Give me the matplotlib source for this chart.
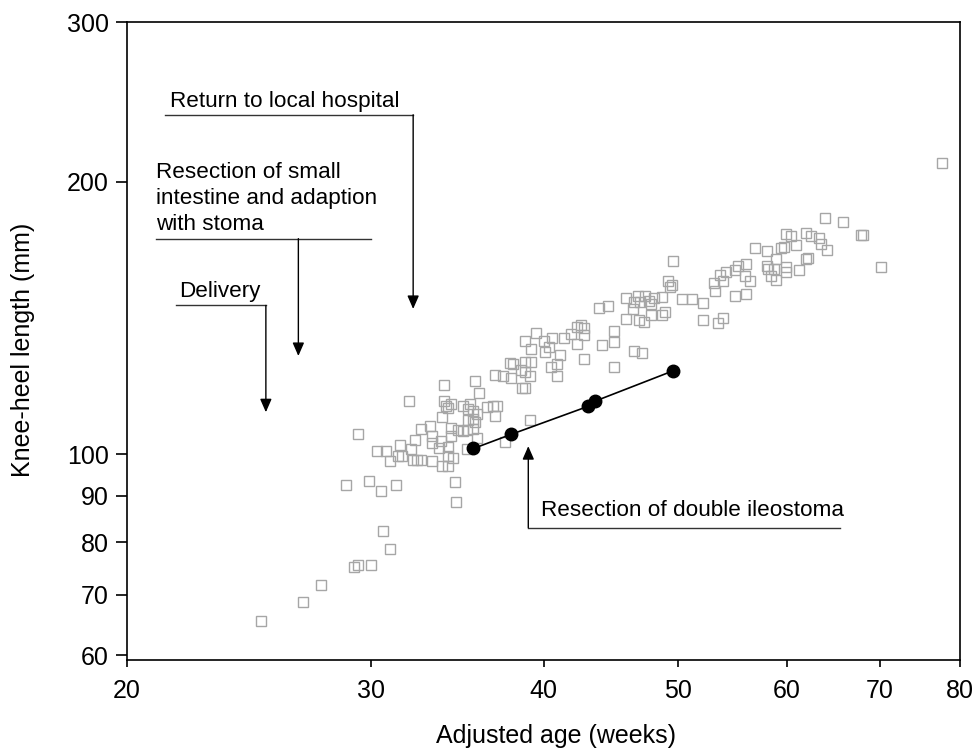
import numpy as np
import matplotlib
matplotlib.use("Agg")
from matplotlib import pyplot as plt
from matplotlib.ticker import NullLocator

plt.rcParams['font.family'] = ['Liberation Sans', 'DejaVu Sans']

# reference children: adjusted age (weeks) and knee-heel length (mm)
ref_age = [
    25.0, 26.8, 27.6, 29.2, 29.4, 30.0, 31.0, 30.6, 28.8, 29.9, 30.5, 31.3,
    33.9, 32.0, 29.4, 30.3, 30.8, 31.0, 31.4, 31.6, 31.5, 32.1, 32.3, 32.6,
    33.1, 33.2, 33.2, 33.7, 33.6, 32.2, 32.4, 32.6, 33.2, 33.8, 34.1, 34.1,
    34.4, 34.3, 34.3, 34.7, 35.2, 33.9, 34.0, 34.3, 33.8, 35.0, 35.4, 35.7,
    35.3, 35.2, 34.5, 34.6,
    35.9, 36.9, 37.4, 37.9, 37.8, 38.0, 38.5, 38.8, 39.1, 38.6, 38.8, 38.8,
    39.2, 38.8, 39.2, 39.5, 40.0, 40.1, 40.4, 40.6, 40.5, 40.9, 40.9, 41.1,
    41.4, 41.9, 42.3, 42.8, 42.8, 42.3, 34.1, 35.3, 35.6, 35.8, 36.4, 36.8,
    37.0, 36.9, 35.6, 35.7, 35.0, 35.6, 35.8, 34.1, 39.1, 37.5,
    49.6, 49.2, 49.4, 49.5, 53.7, 53.9, 54.2, 53.1, 53.2, 45.9, 46.8, 47.4,
    46.5, 47.0, 47.7, 47.8, 48.1, 48.7, 46.4, 50.4, 51.2, 52.2, 45.9, 46.9,
    47.3, 47.8, 48.7, 49.0, 52.2, 53.5, 53.9, 43.9, 44.5, 45.0, 45.0, 44.1,
    42.8, 42.6, 45.0, 46.5, 47.1,
    63.9, 65.9, 67.9, 68.1, 70.2, 59.9, 60.4, 61.9, 62.4, 63.3, 63.5, 64.1,
    60.9, 56.9, 58.0, 59.4, 59.7, 58.9, 58.0, 58.1, 58.7, 59.9, 59.9, 58.4,
    58.9, 61.2, 61.9, 62.1, 56.0, 55.3, 55.0, 55.9, 56.4, 56.0, 55.0, 77.7,
]
ref_length = [
    65.5, 68.8, 71.8, 75.2, 75.5, 75.4, 78.7, 82.2, 92.6, 93.4, 91.2, 92.4,
    119.2, 114.5, 105.2, 100.8, 100.8, 98.2, 99.5, 99.5, 102.3, 101.3, 103.6, 106.6,
    107.4, 104.9, 102.8, 103.4, 101.5, 98.5, 98.5, 98.5, 98.2, 97.2, 97.2, 99.5,
    99.0, 106.8, 104.7, 106.3, 106.3, 114.5, 113.0, 113.6, 109.9, 113.0, 113.6, 120.4,
    109.0, 101.3, 93.1, 88.5,
    116.8, 122.3, 122.0, 121.4, 126.1, 125.8, 123.9, 123.2, 122.0, 118.3, 118.3, 126.4,
    126.4, 133.3, 130.6, 136.1, 133.3, 129.7, 131.3, 134.4, 124.8, 125.8, 122.0, 128.7,
    134.4, 135.8, 138.2, 137.8, 127.4, 132.3, 112.4, 112.1, 111.6, 110.7, 112.7, 113.0,
    113.0, 110.2, 109.3, 108.5, 106.0, 106.6, 104.2, 102.0, 109.0, 103.3,
    163.5, 155.4, 153.0, 153.8, 157.8, 155.4, 159.0, 154.6, 151.5, 148.8, 149.5, 149.5,
    147.2, 147.2, 147.6, 146.5, 148.8, 149.2, 144.7, 148.4, 148.4, 146.9, 141.0, 140.6,
    139.9, 142.4, 142.4, 143.5, 140.6, 139.6, 141.3, 145.0, 145.8, 136.8, 133.0, 132.0,
    135.4, 138.9, 124.8, 130.0, 129.4,
    182.4, 180.6, 174.8, 174.8, 161.1, 175.1, 174.3, 175.6, 174.3, 173.4, 170.8, 168.1,
    170.4, 169.1, 167.8, 169.1, 169.5, 164.3, 161.5, 160.3, 160.3, 161.1, 159.1, 157.4,
    155.8, 159.9, 164.3, 164.7, 162.3, 161.5, 159.9, 157.4, 155.4, 150.3, 149.5, 209.9,
]

# the patient
patient_age = [35.6, 37.9, 43.1, 43.6, 49.6]
patient_length = [101.5, 105.2, 113.0, 114.5, 123.6]

# events: label, age of the event, where the label line sits, arrow tip
event_labels = ["Return to local hospital",
                "Resection of small\nintestine and adaption\nwith stoma",
                "Delivery",
                "Resection of double ileostoma"]
event_age = [32.2, 26.6, 25.2, 39.0]
event_line_y = [237.0, 173.0, 146.0, 83.0]
event_line_x = [(21.3, 32.2), (21.0, 30.0), (21.7, 25.2), (39.0, 65.5)]
event_tip_y = [144.7, 128.4, 111.3, 102.1]
event_text_xy = [(21.5, 241.5), (21.0, 177.0), (21.8, 149.0), (39.85, 85.6)]

x_ticks = [20, 30, 40, 50, 60, 70, 80]
y_ticks = [60, 70, 80, 90, 100, 200, 300]

fig = plt.figure(figsize=(9.76, 7.55), dpi=100)
ax = fig.add_axes([127 / 976, 95 / 755, 833 / 976, 638 / 755])

ax.plot(ref_age, ref_length, 's', ms=7, mfc='none', mec='#a6a6a6', mew=1.0)
ax.plot(patient_age, patient_length, '-', color='black', lw=1.2)
ax.plot(patient_age, patient_length, 'o', ms=9, color='black')

for lab, ex, ly, (x0, x1), ty, (tx, tyy) in zip(event_labels, event_age, event_line_y,
                                                  event_line_x, event_tip_y, event_text_xy):
    ax.plot([x0, x1], [ly, ly], color='#333333', lw=1.0)
    ax.annotate('', xy=(ex, ty), xytext=(ex, ly),
                arrowprops=dict(arrowstyle='-|>,head_length=0.8,head_width=0.35',
                                color='black', lw=1.0, shrinkA=0, shrinkB=0))
    ax.text(tx, tyy, lab, fontsize=16.2, ha='left', va='baseline', linespacing=1.3)

ax.set_xscale('log')
ax.set_yscale('log')
ax.set_xlim(20, 80)
ax.set_ylim(59.3, 300)

ax.set_xticks(x_ticks)
ax.set_xticklabels([str(t) for t in x_ticks])
ax.set_yticks(y_ticks)
ax.set_yticklabels([str(t) for t in y_ticks])
ax.xaxis.set_minor_locator(NullLocator())
ax.yaxis.set_minor_locator(NullLocator())

ax.tick_params(axis='both', labelsize=18, width=1.2, direction='out')
ax.tick_params(axis='x', length=5, pad=9)
ax.tick_params(axis='y', length=8, pad=5)
for s in ax.spines.values():
    s.set_linewidth(1.2)

ax.set_xlabel('Adjusted age (weeks)', fontsize=18)
ax.set_ylabel('Knee-heel length (mm)', fontsize=18)
ax.xaxis.set_label_coords(0.515, -0.100)
ax.yaxis.set_label_coords(-0.110, 0.486)

fig.savefig('out.png', dpi=100)
